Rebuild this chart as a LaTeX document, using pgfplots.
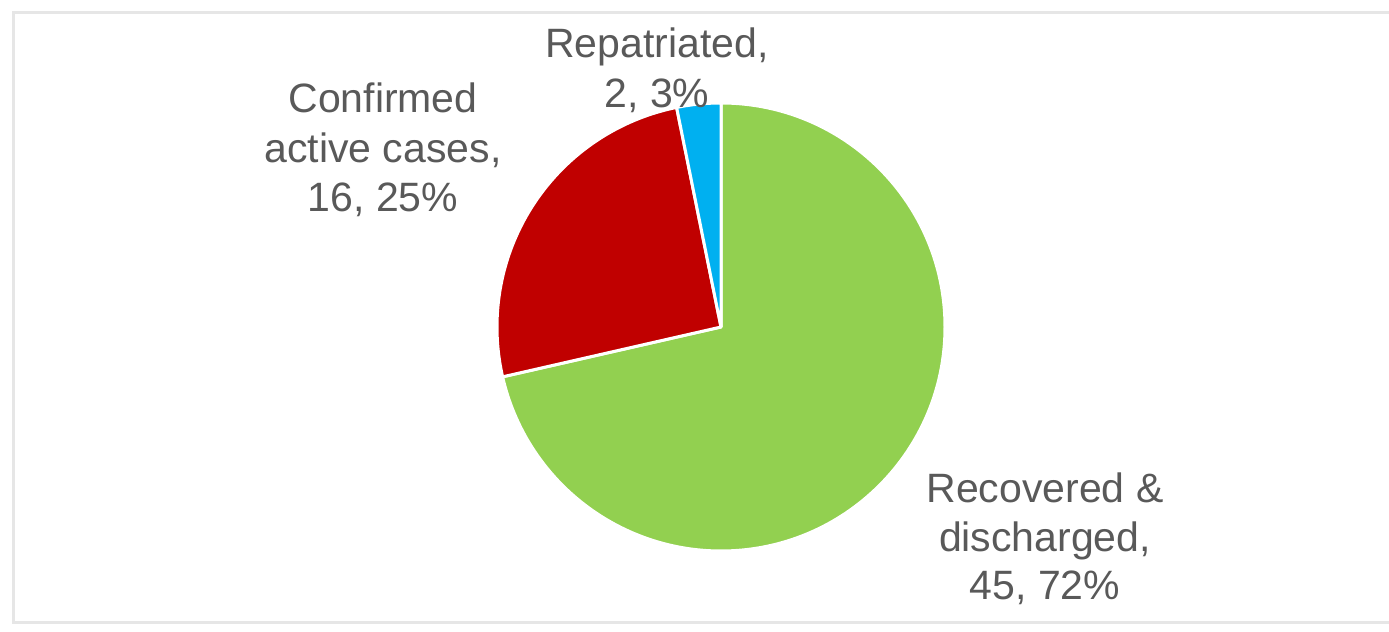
\documentclass[border=0pt]{standalone}
\usepackage{pgfplots}
\usepackage{pgfplotstable}
\pgfplotsset{compat=1.18}
\usepackage{fontspec}
\setmainfont{Liberation Sans}

\definecolor{recgreen}{HTML}{92D050}
\definecolor{actred}{HTML}{C00000}
\definecolor{repblue}{HTML}{00B0F0}
\definecolor{lblgray}{HTML}{595959}
\definecolor{framegray}{HTML}{E6E6E6}

% counts of the three slices
\pgfplotstableread{
name value
rec 45
act 16
rep 2
}\piedata

\pgfplotstablegetelem{0}{value}\of\piedata \pgfmathsetmacro\va{\pgfplotsretval}
\pgfplotstablegetelem{1}{value}\of\piedata \pgfmathsetmacro\vb{\pgfplotsretval}
\pgfplotstablegetelem{2}{value}\of\piedata \pgfmathsetmacro\vc{\pgfplotsretval}
\pgfmathsetmacro\tot{\va+\vb+\vc}
% slices run clockwise from 12 o'clock
\pgfmathsetmacro\aA{90-360*\va/\tot}
\pgfmathsetmacro\aB{\aA-360*\vb/\tot}
\pgfmathsetmacro\aC{\aB-360*\vc/\tot}

\begin{document}
\begin{tikzpicture}[
lbl/.style={anchor=base, text=lblgray, font=\fontsize{20.5}{25}\selectfont, inner sep=0pt},
slice/.style={draw=white, line width=1.5pt, line join=round},
]
\begin{axis}[
width=694.5pt, height=316pt, scale only axis,
xmin=0, xmax=1389, ymin=0, ymax=632,
hide axis, xtick=\empty, ytick=\empty,
]
\draw[framegray, line width=1.5pt] (axis cs:1389,619) -- (axis cs:13,619) -- (axis cs:13,9) -- (axis cs:1389,9);

\fill[recgreen, slice] (axis cs:721,305) -- ++(90:112pt) arc[start angle=90, end angle=\aA, radius=112pt] -- cycle;
\fill[actred, slice] (axis cs:721,305) -- ++(\aA:112pt) arc[start angle=\aA, end angle=\aB, radius=112pt] -- cycle;
\fill[repblue, slice] (axis cs:721,305) -- ++(\aB:112pt) arc[start angle=\aB, end angle=\aC, radius=112pt] -- cycle;

\node[lbl] at (axis cs:657,574) {Repatriated,};
\node[lbl] at (axis cs:657,524) {2, 3\%};
\node[lbl] at (axis cs:383,519) {Confirmed};
\node[lbl] at (axis cs:383,469) {active cases,};
\node[lbl] at (axis cs:383,420) {16, 25\%};
\node[lbl] at (axis cs:1045,129) {Recovered \&};
\node[lbl] at (axis cs:1045,80) {discharged,};
\node[lbl] at (axis cs:1045,32) {45, 72\%};
\end{axis}
\pgfresetboundingbox
\path (current axis.south west) rectangle (current axis.north east);
\end{tikzpicture}
\end{document}
